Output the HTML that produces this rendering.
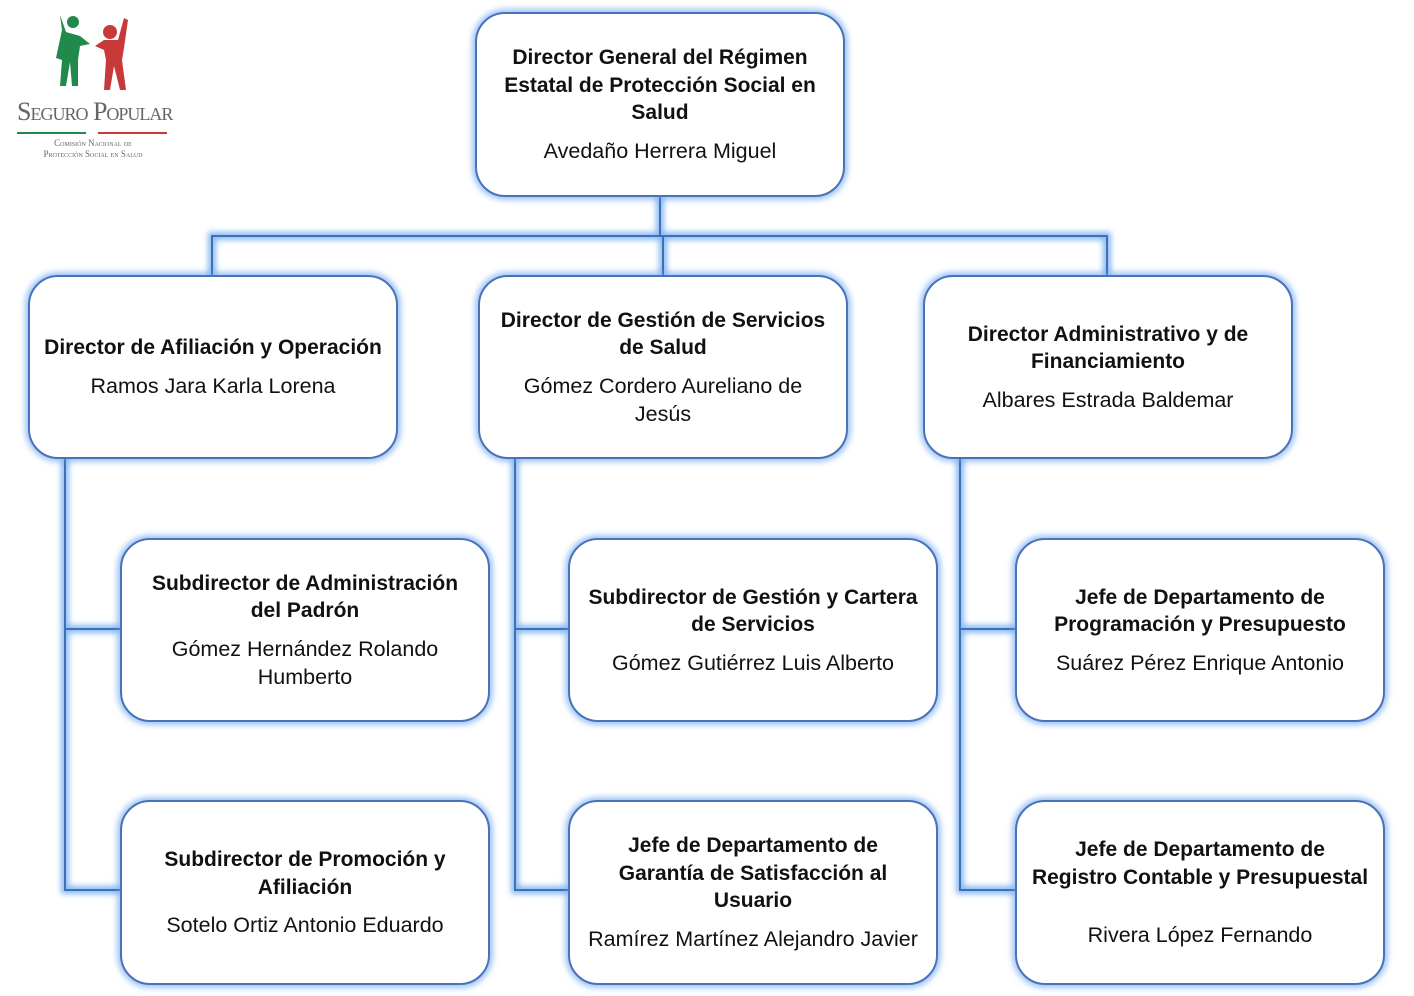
<!DOCTYPE html>
<html><head><meta charset="utf-8"><style>
body{margin:0;width:1414px;height:996px;background:#fff;position:relative;overflow:hidden;font-family:"Liberation Sans",sans-serif;}
.b{position:absolute;box-sizing:border-box;border:2px solid #4a72b8;border-radius:30px;background:#fff;box-shadow:0 0 6px 3px rgba(80,150,240,.55);display:flex;flex-direction:column;justify-content:center;align-items:center;text-align:center;color:#111;padding:0;white-space:nowrap;}
.t{font-weight:bold;font-size:21px;line-height:27.5px;}
.n{font-size:21.5px;line-height:28px;margin-top:10px;}
svg{position:absolute;left:0;top:0;}
.logo{position:absolute;left:17px;top:96px;width:152px;text-align:center;font-family:"Liberation Serif",serif;color:#666;font-variant:small-caps;}
</style></head><body>
<svg width="1414" height="996">
<defs><filter id="g" x="-10%" y="-10%" width="120%" height="120%"><feGaussianBlur stdDeviation="3"/></filter></defs>
<g stroke="#6aa8f0" stroke-width="8" fill="none" filter="url(#g)" opacity=".8">
<path d="M660 197V236M212 275V236H1107V275M663 236V275"/>
<path d="M65 459V890H120M65 629H120M515 459V890H568M515 629H568M960 459V890H1015M960 629H1015"/>
</g>
<g stroke="#3f6fb5" stroke-width="2" fill="none">
<path d="M660 197V236M212 275V236H1107V275M663 236V275"/>
<path d="M65 459V890H120M65 629H120M515 459V890H568M515 629H568M960 459V890H1015M960 629H1015"/>
</g>
<g>
<circle cx="73" cy="22" r="6" fill="#1f8a4c"/>
<path d="M62 30 L60 15 L66 32 L80 36 L90 44 L80 46 L78 60 L78 86 L72 86 L70 62 L66 86 L60 86 L62 60 L56 58 Z" fill="#1f8a4c"/>
<circle cx="110" cy="32" r="7" fill="#c83a3a"/>
<path d="M95 46 L104 40 L118 40 L124 18 L128 20 L124 48 L122 60 L126 90 L120 90 L114 66 L110 90 L104 90 L106 60 L104 50 Z" fill="#c83a3a"/>
<line x1="17" y1="133" x2="86" y2="133" stroke="#1f8a4c" stroke-width="2"/>
<line x1="98" y1="133" x2="167" y2="133" stroke="#c83a3a" stroke-width="2"/>
</g>
</svg>
<div class="logo"><div style="font-size:26px;line-height:32px;white-space:nowrap;letter-spacing:-1px">Seguro Popular</div><div style="font-size:9px;line-height:11px;margin-top:10px">Comisión Nacional de<br>Protección Social en Salud</div></div>
<div class="b" style="left:475px;top:12px;width:370px;height:185px"><div class="t">Director General del Régimen<br>Estatal de Protección Social en<br>Salud</div><div class="n">Avedaño Herrera Miguel</div></div>
<div class="b" style="left:28px;top:275px;width:370px;height:184px"><div class="t">Director de Afiliación y Operación</div><div class="n">Ramos Jara Karla Lorena</div></div>
<div class="b" style="left:478px;top:275px;width:370px;height:184px"><div class="t">Director de Gestión de Servicios<br>de Salud</div><div class="n">Gómez Cordero Aureliano de<br>Jesús</div></div>
<div class="b" style="left:923px;top:275px;width:370px;height:184px"><div class="t">Director Administrativo y de<br>Financiamiento</div><div class="n">Albares Estrada Baldemar</div></div>
<div class="b" style="left:120px;top:538px;width:370px;height:184px"><div class="t">Subdirector de Administración<br>del Padrón</div><div class="n">Gómez Hernández Rolando<br>Humberto</div></div>
<div class="b" style="left:568px;top:538px;width:370px;height:184px"><div class="t">Subdirector de Gestión y Cartera<br>de Servicios</div><div class="n">Gómez Gutiérrez Luis Alberto</div></div>
<div class="b" style="left:1015px;top:538px;width:370px;height:184px"><div class="t">Jefe de Departamento de<br>Programación y Presupuesto</div><div class="n">Suárez Pérez Enrique Antonio</div></div>
<div class="b" style="left:120px;top:800px;width:370px;height:185px"><div class="t">Subdirector de Promoción y<br>Afiliación</div><div class="n">Sotelo Ortiz Antonio Eduardo</div></div>
<div class="b" style="left:568px;top:800px;width:370px;height:185px"><div class="t">Jefe de Departamento de<br>Garantía de Satisfacción al<br>Usuario</div><div class="n">Ramírez Martínez Alejandro Javier</div></div>
<div class="b" style="left:1015px;top:800px;width:370px;height:185px"><div class="t">Jefe de Departamento de<br>Registro Contable y Presupuestal</div><div class="n" style="margin-top:30px">Rivera López Fernando</div></div>
</body></html>
